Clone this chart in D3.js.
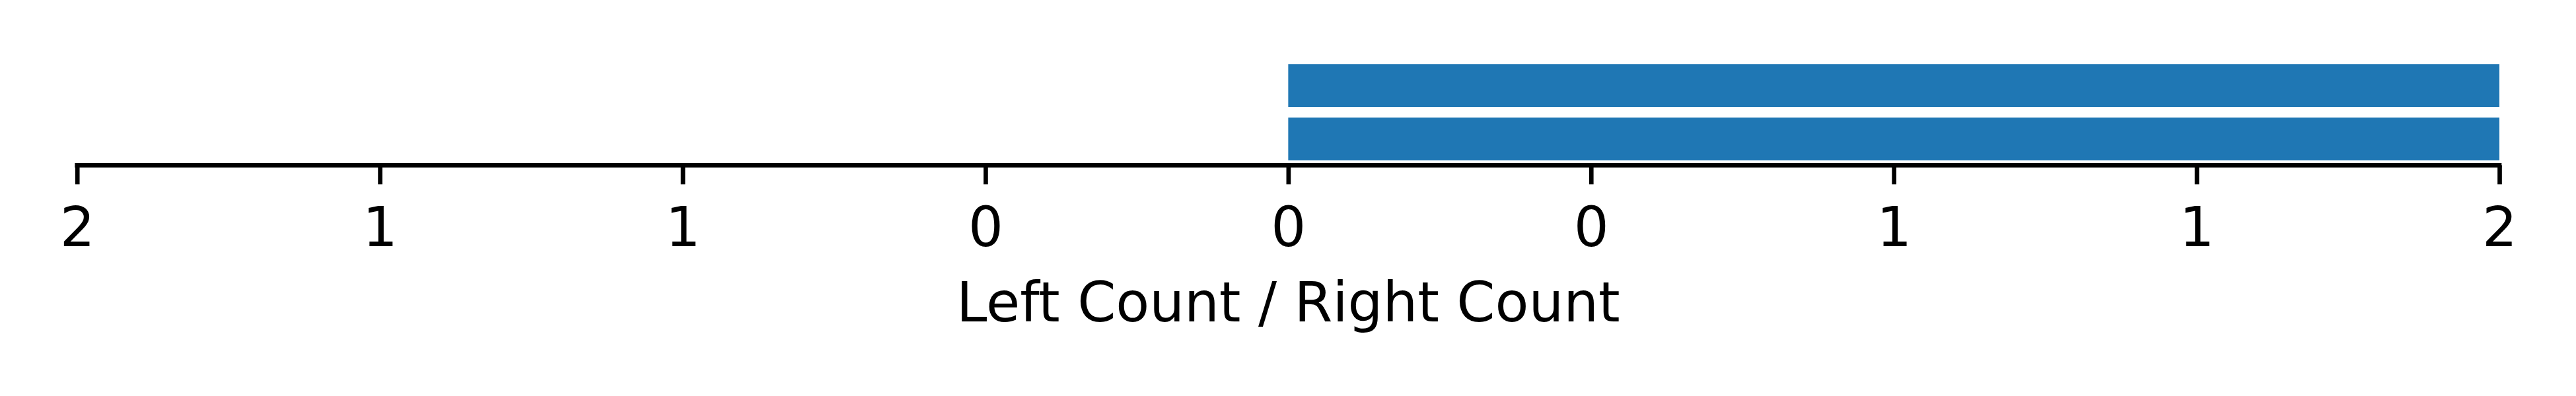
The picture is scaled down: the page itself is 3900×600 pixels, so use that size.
<!DOCTYPE html>
<html>
<head>
<meta charset="utf-8">
<script src="https://cdn.jsdelivr.net/npm/d3@7/dist/d3.min.js"></script>
<style>
  html, body { margin: 0; padding: 0; background: #ffffff; }
  svg { display: block; }
</style>
</head>
<body>
<svg id="chart" width="3900" height="600"></svg>
<script>
// ---- data ----
const categories = ["Row A", "Row B"];
const leftCounts = [0, 0];
const rightCounts = [2, 2];
const tickValues = [-2, -1.5, -1, -0.5, 0, 0.5, 1, 1.5, 2];
const xLabel = "Left Count / Right Count";

// ---- layout ----
const svg = d3.select("#chart");
const W = 3900, H = 600;
const left = 116.7, right = 3784;
const axisY = 250.3;
const barColor = "#1f77b4";
const fontFamily = "'DejaVu Sans', sans-serif";
const fontSize = 83.3;

const x = d3.scaleLinear().domain([-2, 2]).range([left, right]);
const y = d3.scaleLinear().domain([-0.49, 1.49]).range([axisY, 89.9]);
const barH = 0.8;

const g = svg.append("g");

// right bars
g.selectAll("rect.right").data(categories).join("rect")
  .attr("class", "right")
  .attr("x", (d, i) => x(0))
  .attr("width", (d, i) => x(rightCounts[i]) - x(0))
  .attr("y", (d, i) => y(i + barH / 2))
  .attr("height", (d, i) => y(i - barH / 2) - y(i + barH / 2))
  .attr("fill", barColor);

// left bars (negative direction)
g.selectAll("rect.left").data(categories).join("rect")
  .attr("class", "left")
  .attr("x", (d, i) => x(-leftCounts[i]))
  .attr("width", (d, i) => x(0) - x(-leftCounts[i]))
  .attr("y", (d, i) => y(i + barH / 2))
  .attr("height", (d, i) => y(i - barH / 2) - y(i + barH / 2))
  .attr("fill", barColor);

// x axis
const axis = d3.axisBottom(x)
  .tickValues(tickValues)
  .tickFormat(v => String(Math.trunc(Math.abs(v))))
  .tickSize(29)
  .tickSizeOuter(0)
  .tickPadding(0);

const ax = svg.append("g")
  .attr("transform", `translate(0,${axisY})`)
  .call(axis);

ax.select(".domain")
  .attr("stroke", "#000")
  .attr("stroke-width", 6.67)
  .attr("d", `M${left - 3.33},0H${right + 3.33}`);
ax.selectAll(".tick line")
  .attr("stroke", "#000")
  .attr("stroke-width", 6.67);
ax.selectAll(".tick text")
  .attr("fill", "#000")
  .attr("font-family", fontFamily)
  .attr("font-size", fontSize)
  .attr("dy", null)
  .attr("y", 373.3 - axisY);

// x label
svg.append("text")
  .attr("x", (left + right) / 2)
  .attr("y", 487.3)
  .attr("text-anchor", "middle")
  .attr("font-family", fontFamily)
  .attr("font-size", fontSize)
  .attr("fill", "#000")
  .text(xLabel);
</script>
</body>
</html>
